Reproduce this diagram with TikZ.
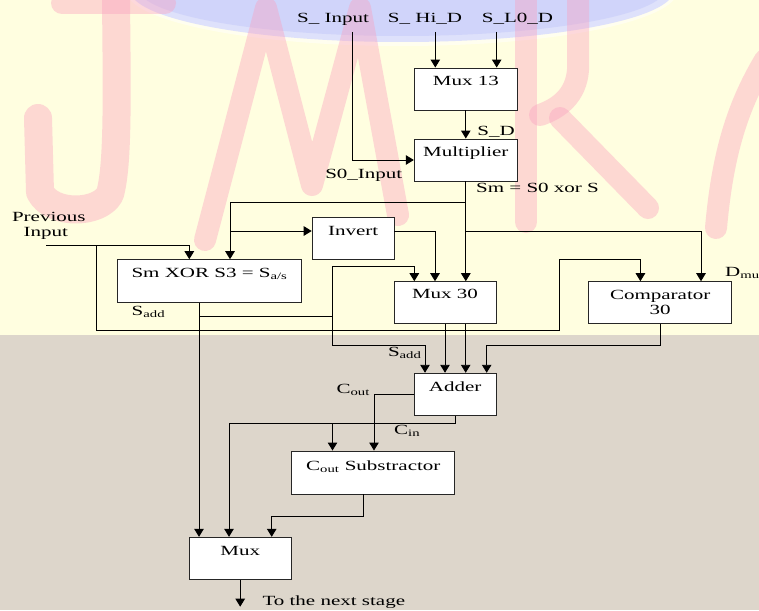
\documentclass[tikz,border=0pt]{standalone}
\usepackage{fontspec}
\setmainfont{Liberation Serif}[FakeStretch=1.5]
\usetikzlibrary{arrows.meta}
\definecolor{paper}{HTML}{FFFEE0}
\definecolor{sand}{HTML}{DDD6CB}
\definecolor{rose}{RGB}{250,160,190}
\definecolor{haze}{HTML}{D0D4FA}
\begin{document}
\begin{tikzpicture}[x=1pt,y=-1pt,
  wire/.style={line width=0.95pt},
  arr/.style={wire,-{Triangle[length=8pt,width=9.5pt]}},
  box/.style={draw=black!85,fill=white,line width=0.95pt,inner sep=0pt,rectangle},
  lbl/.style={anchor=base,inner sep=0pt,font=\fontsize{14}{15}\selectfont},
  ink/.style={rose,draw opacity=0.4,line width=22pt,line cap=round,line join=round}]
\useasboundingbox (0,0) rectangle (759,610);

% background: pale top, sand-coloured lower band
\fill[paper] (0,0) rectangle (759,335);
\fill[sand] (0,335) rectangle (759,610);
\fill[white,opacity=0.5] (402,-10) ellipse [x radius=276pt,y radius=56pt];
\fill[haze!70!white] (402,-10) ellipse [x radius=272pt,y radius=52pt];
\fill[haze] (402,-12) ellipse [x radius=264pt,y radius=48pt];

% faint lettering in the background
\begin{scope}
  \clip (0,0) rectangle (759,335);
  \draw[ink] (62,3) -- (165,3);
  \draw[ink,line width=28pt] (116,0) .. controls (117,100) and (118,165) .. (110,194)
    .. controls (100,214) and (52,216) .. (40,192) -- (38,118);
  \draw[ink] (205,240) -- (266,8) -- (312,185) -- (360,8) -- (398,215);
  \draw[ink] (526,0) -- (526,222);
  \draw[ink] (578,0) -- (578,70) .. controls (576,95) and (560,108) .. (540,115);
  \draw[ink] (560,118) -- (648,208);
  \draw[ink] (716,228) .. controls (722,160) and (735,110) .. (765,60);
\end{scope}

% blocks
\node[box,minimum width=103pt,minimum height=42pt] (mux13) at (465.8,89) {};
\node[box,minimum width=103pt,minimum height=42pt] (mult) at (465.8,160) {};
\node[box,minimum width=81.8pt,minimum height=41.6pt] (invert) at (353.1,238.5) {};
\node[box,minimum width=184pt,minimum height=42.6pt] (smxor) at (209.5,281) {};
\node[box,minimum width=102pt,minimum height=41.6pt] (mux30) at (445,302.5) {};
\node[box,minimum width=143.2pt,minimum height=41.6pt] (comp) at (660.2,302.5) {};
\node[box,minimum width=81.7pt,minimum height=42.7pt] (adder) at (455.2,394.6) {};
\node[box,minimum width=163.3pt,minimum height=43pt] (coutsub) at (373.3,472.5) {};
\node[box,minimum width=101.7pt,minimum height=42pt] (mux) at (240.2,558.3) {};

% block captions
\node[lbl] (mux13t) at ([yshift=-18pt]mux13.north) {Mux 13};
\node[lbl] (multt) at ([yshift=-17.7pt]mult.north) {Multiplier};
\node[lbl] (invertt) at ([yshift=-18pt]invert.north) {Invert};
\node[lbl] (smxort) at ([yshift=-18.3pt]smxor.north) {Sm XOR S3 = S\textsubscript{a/s}};
\node[lbl] (mux30t) at ([yshift=-17.5pt]mux30.north) {Mux 30};
\node[lbl] (compt) at ([yshift=-18.3pt]comp.north) {Comparator};
\node[lbl] (compn) at ([yshift=-32.8pt]comp.north) {30};
\node[lbl] (addert) at ([yshift=-18.7pt]adder.north) {Adder};
\node[lbl] (coutsubt) at ([yshift=-19.5pt]coutsub.north) {C\textsubscript{out} Substractor};
\node[lbl] (muxt) at ([yshift=-18.7pt]mux.north) {Mux};

% signal names
\node[lbl] (sinput) at (333,22.7) {S\_ Input};
\node[lbl] (shid) at (425,22.7) {S\_ Hi\_D};
\node[lbl] (slod) at (517.5,22.7) {S\_L0\_D};
\node[lbl] (sd) at (496,135.7) {S\_D};
\node[lbl] (s0in) at (363.8,178.3) {S0\_Input};
\node[lbl] (smeq) at (537.5,192.7) {Sm = S0 xor S};
\node[lbl] (prev1) at (48.8,221) {Previous};
\node[lbl] (prev2) at (45.7,236.7) {Input};
\node[lbl] (sadd1) at (148.4,315) {S\textsubscript{add}};
\node[lbl] (sadd2) at (404.7,356.7) {S\textsubscript{add}};
\node[lbl] (cout) at (353.2,393.3) {C\textsubscript{out}};
\node[lbl] (cin) at (407.2,434.3) {C\textsubscript{in}};
\node[lbl,anchor=base west] (dmul) at (725,276) {D\textsubscript{mul}};
\node[lbl] (next) at (333.8,605.7) {To the next stage};

% free ends and junctions
\coordinate (inTop) at (352.7,32);
\coordinate (hiTop) at (435.3,32);
\coordinate (loTop) at (496.7,32);
\coordinate (smA) at (465.8,202.3);
\coordinate (smB) at (465.8,231);
\coordinate (invIn) at (230,231);
\coordinate (prevEnd) at (46,245.7);
\coordinate (prevJ) at (96.8,245.7);
\coordinate (prevLow) at (96.8,330.7);
\coordinate (prevUp) at (559,259.7);
\coordinate (saJ) at (199,316);
\coordinate (saTop) at (332.5,266.7);
\coordinate (saMid) at (332.5,316);
\coordinate (saLow) at (332.5,345);
\coordinate (busY) at (0,345);
\coordinate (cinY) at (0,423.3);
\coordinate (subY) at (0,516);
\coordinate (outEnd) at (240.2,606.7);

% connectors
\draw[arr] (hiTop) -- (hiTop |- mux13.north);
\draw[arr] (loTop) -- (loTop |- mux13.north);
\draw[arr] (mux13) -- (mult);
\draw[arr] (inTop) |- (mult.west);
\draw[arr] (mult.south) -- (mult.south |- mux30.north);
\draw[arr] (smA) -| ([xshift=20.5pt]smxor.north);
\draw[arr] (invIn) -- (invIn -| invert.west);
\draw[arr] (invert.east |- invIn) -| ([xshift=-10pt]mux30.north);
\draw[arr] (smB) -| ([xshift=40.8pt]comp.north);
\draw[arr] (prevEnd) -| ([xshift=-20.2pt]smxor.north);
\draw[arr] (prevJ) -- (prevLow) -| (prevUp) -| ([xshift=-19.8pt]comp.north);
\draw[arr] ([xshift=-10.5pt]smxor.south) -- ([xshift=-10.5pt]smxor.south |- mux.north);
\draw[arr] (saJ) -| (saTop) -| ([xshift=-30.7pt]mux30.north);
\draw[arr] (saMid) -- (saLow) -| ([xshift=-30.2pt]adder.north);
\draw[arr] (mux30.south) -- (mux30.south |- adder.north);
\draw[arr] ([xshift=20.7pt]mux30.south) -- ([xshift=20.7pt]mux30.south |- adder.north);
\draw[arr] (comp.south) -- (comp.south |- busY) -| ([xshift=31.5pt]adder.north);
\draw[arr] (adder.west) -| ([xshift=0.7pt]coutsub.north);
\draw[arr] (adder.south) -- (adder.south |- cinY) -| ([xshift=-11.2pt]mux.north);
\draw[arr] ([xshift=-40.8pt]coutsub.north |- cinY) -- ([xshift=-40.8pt]coutsub.north);
\draw[arr] ([xshift=-10pt]coutsub.south) -- ([xshift=-10pt]coutsub.south |- subY) -| ([xshift=31.5pt]mux.north);
\draw[arr] (mux.south) -- (outEnd);
\end{tikzpicture}
\end{document}
